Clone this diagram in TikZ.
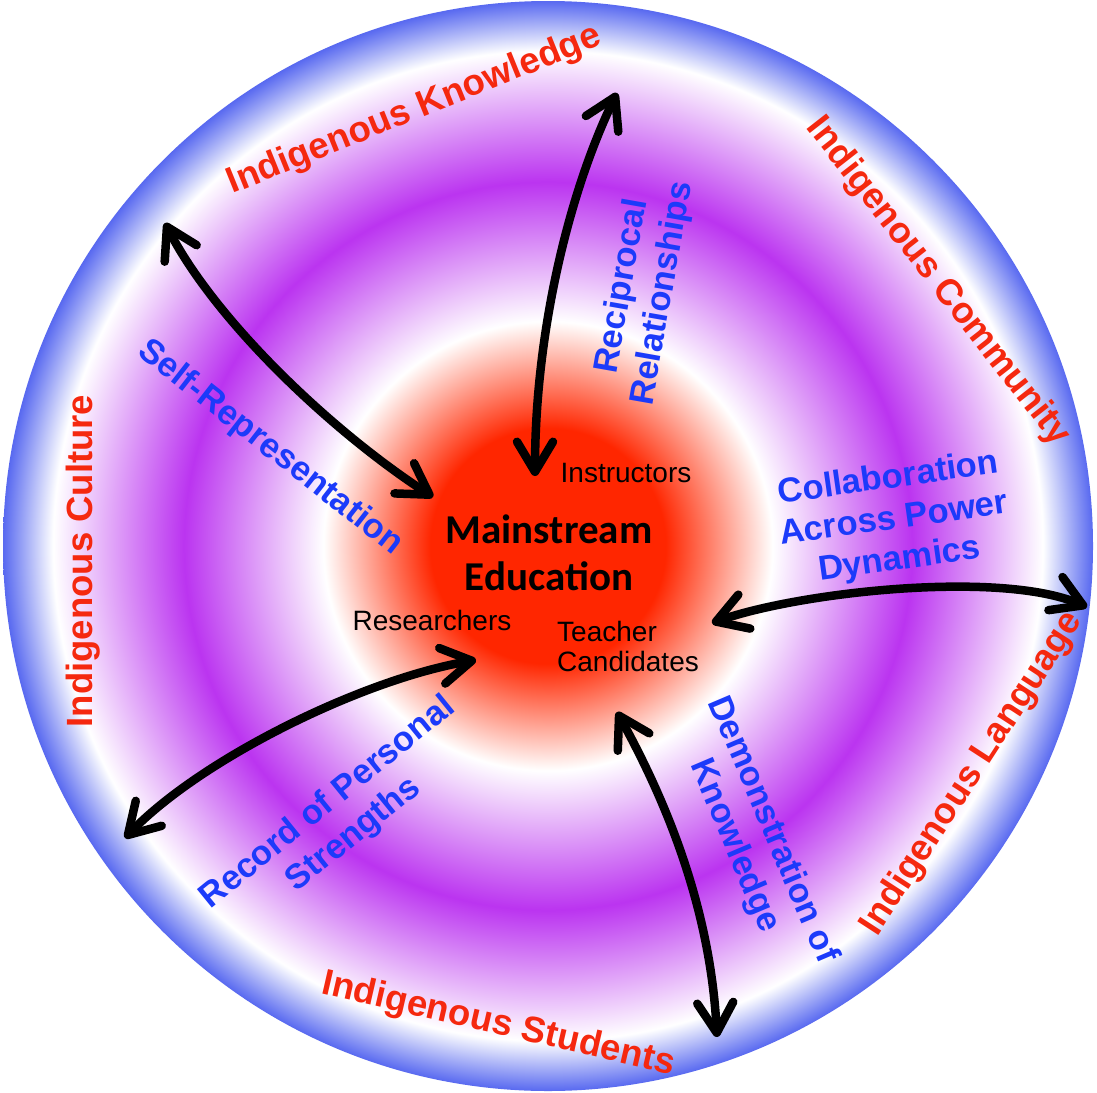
\documentclass[tikz,border=0pt]{standalone}
\usepackage{fontspec}
\setmainfont{Liberation Sans}
\newfontfamily\calibfont{Carlito}
\usetikzlibrary{arrows.meta}
\definecolor{cred}{RGB}{255,38,0}
\definecolor{cpurp}{RGB}{187,52,240}
\definecolor{cblue}{RGB}{88,105,240}
\definecolor{lred}{RGB}{245,40,15}
\definecolor{lblue}{RGB}{28,58,250}
\pgfdeclareradialshading{disc}{\pgfpoint{0bp}{0bp}}{color(0bp)=(cred); color(5.4bp)=(cred); color(10.3bp)=(white); color(16.7bp)=(cpurp); color(22.7bp)=(white); color(25bp)=(cblue); color(50bp)=(cblue)}
\tikzset{
 redlab/.style={text=lred, font=\fontsize{36.5}{40}\selectfont\bfseries, inner sep=0pt},
 bluelab/.style={text=lblue, font=\fontsize{34.5}{41}\selectfont\bfseries, align=center, inner sep=0pt},
 blacklab/.style={text=black, font=\fontsize{28}{30}\selectfont, inner sep=0pt},
 dblarrow/.style={line width=8.5pt, line cap=round, {Straight Barb[length=30pt,width=36pt,round]}-{Straight Barb[length=30pt,width=36pt,round]}},
}
\begin{document}
\begin{tikzpicture}[x=1pt,y=-1pt]
\useasboundingbox (0,0) rectangle (1097,1092);
\fill[white] (0,0) rectangle (1097,1092);
\shade[shading=disc] (548,546) circle (545pt);

% arrows
\coordinate (a1s) at (535,476); \coordinate (a1e) at (617,93);
\coordinate (a2s) at (165,223); \coordinate (a2e) at (433,497);
\coordinate (a3s) at (712,623); \coordinate (a3e) at (1087,607);
\coordinate (a4s) at (125,838); \coordinate (a4e) at (476,660);
\coordinate (a5s) at (617,712); \coordinate (a5e) at (717,1037);
\draw[dblarrow] (a1s) .. controls (535,330) and (570,190) .. (a1e);
\draw[dblarrow] (a2s) .. controls (215,320) and (330,430) .. (a2e);
\draw[dblarrow] (a3s) .. controls (800,592) and (1000,570) .. (a3e);
\draw[dblarrow] (a4s) .. controls (200,760) and (360,680) .. (a4e);
\draw[dblarrow] (a5s) .. controls (660,790) and (710,900) .. (a5e);

% red outer labels
\node[redlab, anchor=base, rotate=22] (ik) at (418,119) {Indigenous Knowledge};
\node[redlab, rotate=-52] (ic) at (938,282) {Indigenous Community};
\node[redlab, anchor=base, rotate=90] (icu) at (92,561) {Indigenous Culture};
\node[redlab, anchor=base, rotate=57] (il) at (980,779) {Indigenous Language};
\node[redlab, anchor=base, rotate=-13] (is) at (496,1034) {Indigenous Students};

% blue labels
\node[bluelab, rotate=-38] (sr) at (270,448) {Self-Representation};
\node[bluelab, rotate=80] (rr) at (643,290) {Reciprocal\\Relationships};
\node[bluelab, rotate=8] (ca) at (894,520) {Collaboration\\Across Power\\Dynamics};
\node[bluelab, rotate=39] (rp) at (341,819) {Record of Personal\\Strengths};
\node[bluelab, rotate=-67] (dk) at (753,838) {Demonstration of\\Knowledge};

% centre labels
\node[blacklab] (ins) at (626,473) {Instructors};
\node[blacklab] (res) at (432,620) {Researchers};
\node[blacklab, align=left, anchor=north west] (tc) at (557,621) {Teacher\\Candidates};
\node[font=\calibfont\fontsize{41}{47}\selectfont\bfseries, align=center, inner sep=0pt] (me) at (549,553) {Mainstream\\Education};
\end{tikzpicture}
\end{document}
